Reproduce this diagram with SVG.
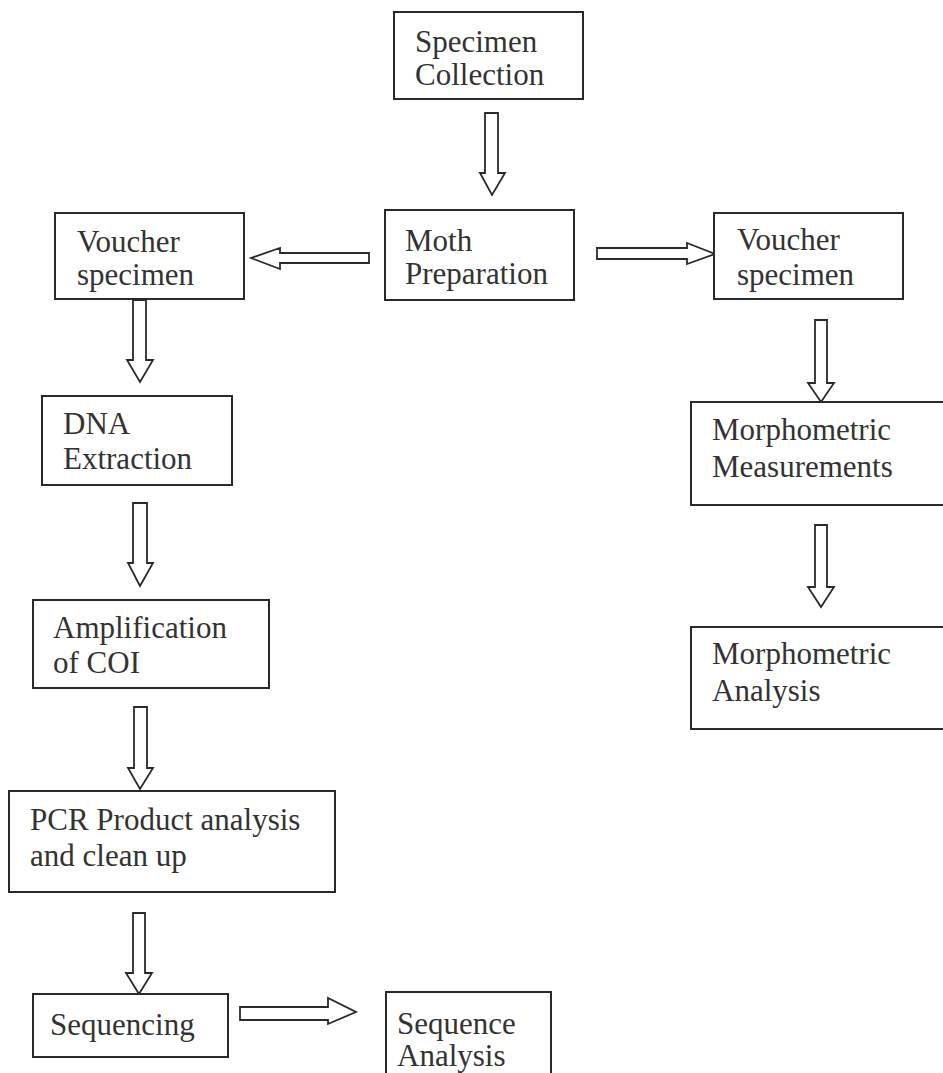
<svg xmlns="http://www.w3.org/2000/svg" width="943" height="1073" viewBox="0 0 943 1073">
<style>
.box{fill:#fff;stroke:#2a2a2a;stroke-width:2}
.arr{fill:#fff;stroke:#2a2a2a;stroke-width:1.8;stroke-linejoin:miter}
.t{font-family:'Liberation Serif','Times New Roman','DejaVu Serif',serif;font-size:31px;fill:#333}
</style>
<rect width="943" height="1073" fill="#fff"/>
<g id="connectors">
<polygon class="arr" points="485,113 498,113 498,173 505,173 492,195 480,173 485,173"/>
<polygon class="arr" points="369,253 369,263 280,263 280,269 251,258 280,248 280,253"/>
<polygon class="arr" points="597,248 687,248 687,243 715,254 687,264 687,259 597,259"/>
<polygon class="arr" points="133,300 146,300 146,360 153,360 140,382 127,360 133,360"/>
<polygon class="arr" points="133,503 147,503 147,563 153,563 140,586 128,563 133,563"/>
<polygon class="arr" points="134,707 147,707 147,768 153,768 140,789 128,768 134,768"/>
<polygon class="arr" points="133,913 145,913 145,973 152,973 139,994 126,973 133,973"/>
<polygon class="arr" points="240,1007 328,1007 328,998 356,1012 328,1024 328,1020 240,1020"/>
<polygon class="arr" points="815,320 827,320 827,383 834,383 821,402 808,383 815,383"/>
<polygon class="arr" points="815,525 827,525 827,587 834,587 821,607 808,587 815,587"/>
</g>
<g class="t" font-family="Liberation Serif, Times New Roman, DejaVu Serif, serif">
<g id="specimen-collection">
<rect class="box" x="394" y="12" width="189" height="87"/>
<text x="415" y="52">Specimen</text>
<text x="415" y="85">Collection</text>
</g>
<g id="moth-preparation">
<rect class="box" x="385" y="210" width="189" height="90"/>
<text x="405" y="251">Moth</text>
<text x="405" y="284">Preparation</text>
</g>
<g id="voucher-left">
<rect class="box" x="55" y="213" width="189" height="86"/>
<text x="77" y="252">Voucher</text>
<text x="77" y="285">specimen</text>
</g>
<g id="voucher-right">
<rect class="box" x="714" y="213" width="189" height="86"/>
<text x="737" y="250">Voucher</text>
<text x="737" y="285">specimen</text>
</g>
<g id="dna-extraction">
<rect class="box" x="42" y="396" width="190" height="89"/>
<text x="63" y="434">DNA</text>
<text x="63" y="469">Extraction</text>
</g>
<g id="amplification">
<rect class="box" x="33" y="600" width="236" height="88"/>
<text x="53" y="638">Amplification</text>
<text x="53" y="673">of COI</text>
</g>
<g id="pcr-product">
<rect class="box" x="9" y="791" width="326" height="101"/>
<text x="30" y="830">PCR Product analysis</text>
<text x="30" y="866">and clean up</text>
</g>
<g id="sequencing">
<rect class="box" x="33" y="994" width="195" height="63"/>
<text x="50" y="1035">Sequencing</text>
</g>
<g id="sequence-analysis">
<rect class="box" x="386" y="992" width="165" height="100"/>
<text x="397" y="1034">Sequence</text>
<text x="397" y="1066">Analysis</text>
</g>
<g id="morphometric-measurements">
<rect class="box" x="691" y="402" width="270" height="103"/>
<text x="712" y="440">Morphometric</text>
<text x="712" y="477">Measurements</text>
</g>
<g id="morphometric-analysis">
<rect class="box" x="691" y="627" width="270" height="102"/>
<text x="712" y="664">Morphometric</text>
<text x="712" y="701">Analysis</text>
</g>
</g>
</svg>
